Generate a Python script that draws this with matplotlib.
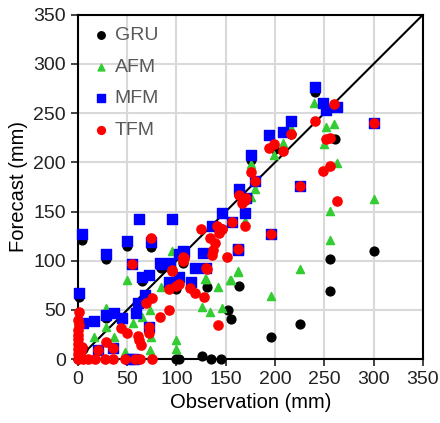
import matplotlib.pyplot as plt

plt.rcParams['font.family'] = ['Liberation Sans', 'DejaVu Sans']

# GRU forecasts (observation, forecast) in mm
gru_obs = [241, 261, 200, 176, 4, 29, 50, 74, 65, 84, 107, 100, 131, 163, 152, 155, 1, 29,
           300, 256, 256, 225, 196, 100, 103, 126, 135, 145, 0, 2, 5, 180, 216, 170, 163, 146, 108]
gru_fc = [272, 224, 214, 202, 121, 102, 115, 114, 79, 93, 98, 71, 73, 74, 50, 41, 63, 42,
          110, 102, 69, 36, 23, 0, 0, 3, 0, 0, 0, 5, 10, 180, 229, 162, 167, 132, 103]

# AFM forecasts
afm_obs = [240, 252, 260, 250, 263, 216, 208, 199, 176, 180, 300, 256, 256, 225, 162, 196, 154,
           170, 96, 50, 84, 129, 155, 142, 126, 134, 146, 73, 65, 56, 29, 29, 74, 37, 16, 48,
           73, 100, 100, 0, 0, 0, 2, 162, 130, 176]
afm_fc = [260, 236, 239, 219, 199, 235, 220, 207, 198, 173, 163, 151, 121, 92, 89, 64, 80,
          140, 110, 80, 73, 81, 80, 73, 53, 48, 52, 50, 43, 37, 52, 33, 22, 23, 23, 7,
          9, 19, 10, 23, 33, 40, 10, 90, 81, 165]

# MFM forecasts
mfm_obs = [241, 249, 252, 263, 300, 216, 208, 194, 176, 180, 225, 196, 162, 156, 170, 163, 171,
           4, 29, 50, 62, 95, 74, 55, 65, 72, 84, 93, 103, 107, 119, 130, 92, 103, 115, 68, 61,
           59, 45, 37, 29, 16, 5, 1, 72, 36, 20, 146, 136, 127, 162, 83, 108, 53, 57]
mfm_fc = [277, 260, 253, 256, 240, 242, 231, 228, 207, 181, 176, 127, 112, 139, 149, 173, 164,
          127, 107, 120, 142, 142, 119, 97, 83, 86, 97, 98, 107, 110, 93, 93, 78, 83, 78, 65, 57,
          47, 42, 47, 45, 39, 37, 67, 33, 11, 9, 149, 135, 108, 111, 98, 109, 0, 0]

# TFM forecasts
tfm_obs = [260, 241, 300, 252, 256, 256, 249, 225, 216, 194, 199, 208, 176, 180, 263, 196, 162,
           156, 170, 163, 167, 171, 170, 74, 55, 107, 107, 130, 95, 92, 100, 103, 114, 119, 128,
           142, 92, 83, 75, 69, 44, 50, 72, 72, 61, 62, 64, 29, 36, 20, 125, 141, 146, 143, 134,
           139, 137, 136, 151, 108, 131, 96, 1, 17, 28, 36, 48, 58, 63, 75, 5, 10,
           0, 0, 0, 0, 0, 0, 0, 2, 3, 4, 1, 0]
tfm_fc = [259, 242, 240, 224, 225, 196, 191, 176, 229, 215, 219, 212, 190, 181, 161, 127, 112,
          139, 135, 167, 159, 164, 162, 123, 97, 104, 100, 93, 91, 71, 74, 76, 72, 67, 63,
          35, 50, 43, 62, 57, 32, 27, 33, 27, 24, 19, 14, 17, 11, 9, 132, 135, 132, 128, 123,
          118, 111, 106, 104, 103, 92, 90, 48, 0, 0, 0, 0, 0, 0, 0, 0, 0,
          0, 5, 10, 15, 20, 25, 30, 3, 8, 12, 35, 40]

fig = plt.figure(figsize=(4.4, 4.23), dpi=100)
ax = fig.add_axes([0.177, 0.151, 0.784, 0.814])

ax.plot([0, 350], [0, 350], color='black', lw=1.5, zorder=2)
ax.scatter(gru_obs, gru_fc, marker='o', s=40, color='black', label='GRU', zorder=3, clip_on=False)
ax.scatter(afm_obs, afm_fc, marker='^', s=34, color='#33cc33', label='AFM', zorder=4, clip_on=False)
ax.scatter(mfm_obs, mfm_fc, marker='s', s=44, color='#0000ff', label='MFM', zorder=5, clip_on=False)
ax.scatter(tfm_obs, tfm_fc, marker='o', s=44, color='#ff0000', label='TFM', zorder=6, clip_on=False)

ax.set_xlim(0, 350)
ax.set_ylim(0, 350)
ax.set_xticks(range(0, 351, 50))
ax.set_yticks(range(0, 351, 50))
ax.grid(True, color='#d9d9d9', lw=1.5, zorder=0)
ax.set_axisbelow(True)
ax.tick_params(direction='out', length=5, width=1.2, labelsize=14, colors='#222222')
for s in ax.spines.values():
    s.set_linewidth(1.5)
ax.set_xlabel('Observation (mm)', fontsize=14.5)
ax.set_ylabel('Forecast (mm)', fontsize=14.5)

leg = ax.legend(loc='upper left', frameon=False, fontsize=14, handletextpad=0.1,
                handlelength=1.2, labelspacing=0.72, borderaxespad=0.2, borderpad=0.4,
                markerscale=0.85, labelcolor='#595959')

fig.savefig('out.png', dpi=100)
